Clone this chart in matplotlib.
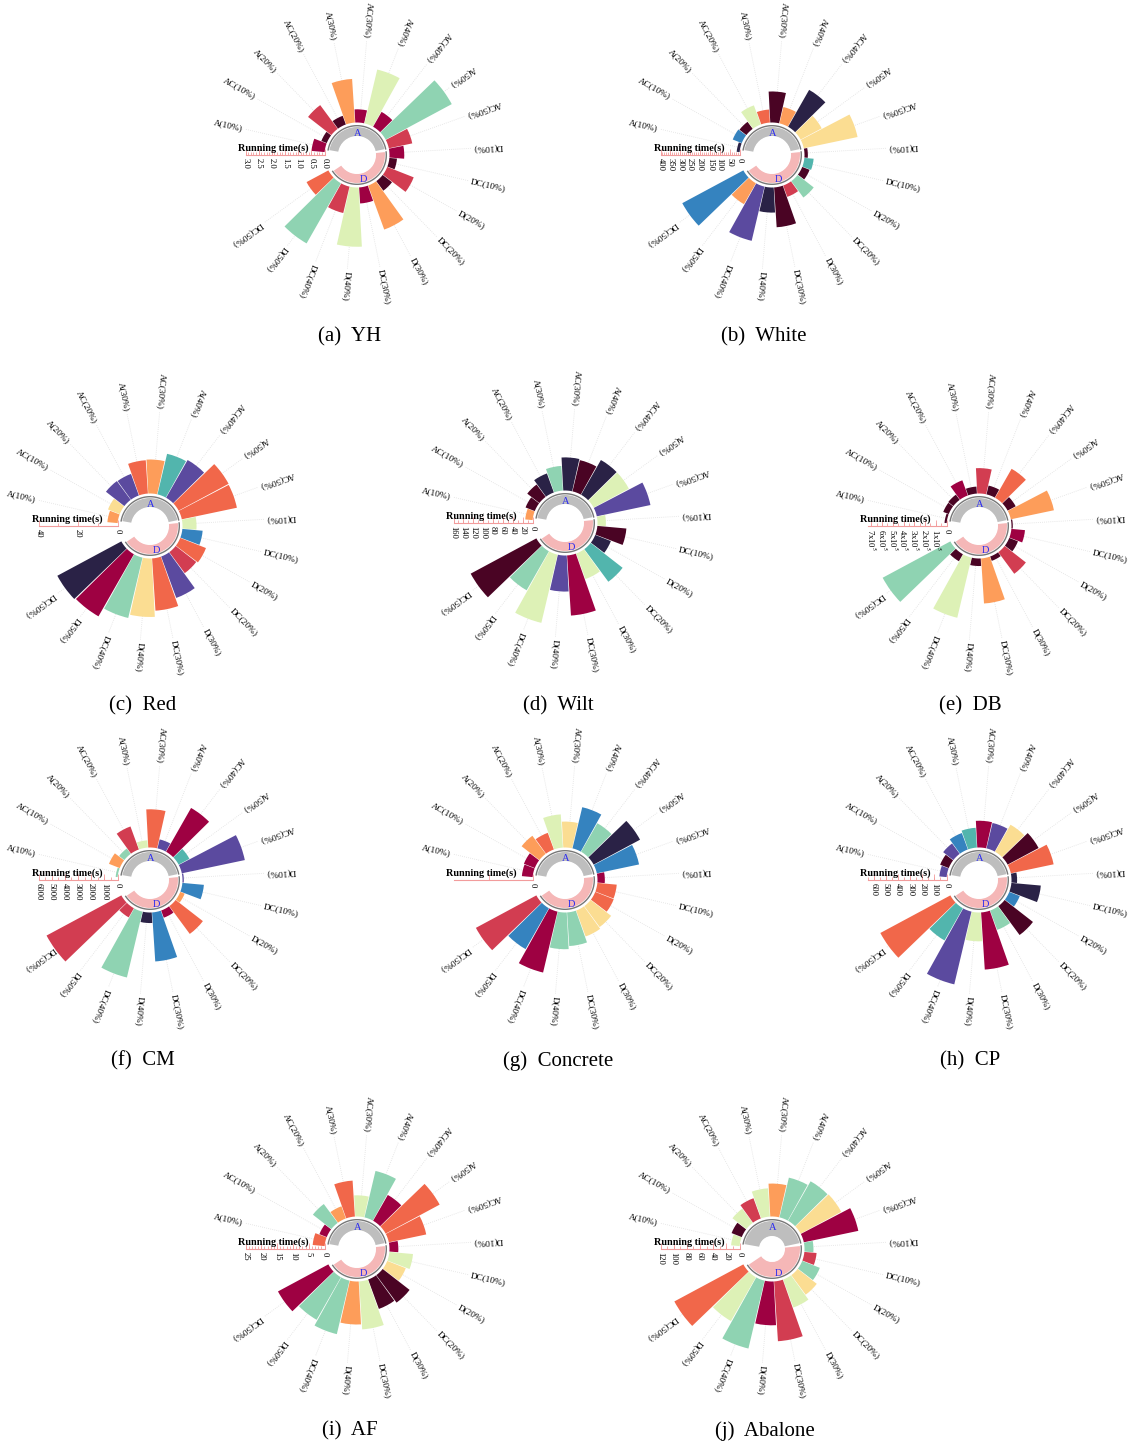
import numpy as np
import matplotlib.pyplot as plt
from matplotlib.transforms import offset_copy

plt.rcParams['font.family'] = ['Liberation Serif', 'DejaVu Serif']
plt.rcParams['mathtext.fontset'] = 'stix'

W, H = 1129, 1446

categories = ['A(10%)', 'AC(10%)', 'A(20%)', 'AC(20%)', 'A(30%)', 'AC(30%)',
              'A(40%)', 'AC(40%)', 'A(50%)', 'AC(50%)',
              'D(10%)', 'DC(10%)', 'D(20%)', 'DC(20%)', 'D(30%)', 'DC(30%)',
              'D(40%)', 'DC(40%)', 'D(50%)', 'DC(50%)']

palette = {'M': '#4a0424', 'C': '#9e0142', 'R': '#d23d51', 'O': '#f1674a',
           'L': '#fd9d5a', 'Y': '#fbdd92', 'G': '#ddf1b6', 'E': '#8fd3b2',
           'T': '#52b5ad', 'B': '#3583bf', 'P': '#5b4a9f', 'N': '#2a2246'}

# running time of each variant, in the order of `categories`
yh_time = [0.5, 0.22, 1.12, 0.35, 1.66, 0.5, 2.1, 0.65, 2.85, 0.91,
           0.56, 0.29, 1.08, 0.45, 1.78, 0.61, 2.25, 1.03, 2.63, 0.94]
yh_fill = 'C M R M L C G C E R C M R M L C G R E O'.split()

white_time = [15, 49, 44, 103, 66, 157, 85, 215, 121, 278,
              17, 47, 40, 103, 61, 202, 127, 282, 122, 351]
white_fill = 'N B M G O M L N Y Y M T M E R M N P L B'.split()

red_time = [5.2, 6.4, 11.8, 11.6, 16.9, 17.2, 21.1, 22.0, 28.7, 28.5,
            7.1, 10.3, 14.0, 13.2, 22.3, 26.5, 29.6, 31.4, 36.2, 36.8]
red_fill = 'L Y P P O L T P O O G B O R P O Y E C N'.split()

wilt_time = [15, 20, 31, 41, 50, 67, 65, 81, 81, 111,
             17, 59, 34, 82, 55, 122, 73, 142, 91, 151]
wilt_fill = 'L M M N E N M N G P G M N T G C P G E M'.split()

# DB times in units of 10^5 s
db_time = [0.2, 0.55, 0.6, 1.5, 0.65, 2.36, 0.84, 3.1, 0.85, 4.1,
           0.12, 1.27, 0.87, 2.5, 0.43, 4.2, 0.7, 5.75, 0.75, 7.15]
db_fill = 'M M M C M R M O M L M C M R M L M G M E'.split()

cm_time = [150, 880, 500, 1860, 550, 2900, 700, 3830, 930, 4890,
           100, 1640, 360, 2620, 580, 3730, 800, 5140, 800, 6450]
cm_fill = 'E L E R G O P C T P P B L O C B N E R R'.split()

concrete_time = [0.25, 0.27, 0.52, 0.41, 0.77, 0.6, 0.98, 0.76, 1.22, 1.0,
                 0.17, 0.45, 0.46, 0.6, 0.64, 0.78, 0.85, 1.45, 1.09, 1.59]
concrete_fill = 'C C L O G Y B E N B C O O Y Y E E C B R'.split()

cp_time = [60, 76, 106, 144, 163, 220, 215, 256, 289, 360,
           46, 243, 93, 295, 169, 471, 237, 615, 305, 654]
cp_fill = 'P M P B T C P Y M O N N B M E C G P T O'.split()

af_time = [3.8, 2.5, 7.4, 4.1, 11.4, 6.7, 15.1, 9.4, 19.4, 12.1,
           2.8, 7.5, 6.3, 10.8, 9.9, 15.2, 13.6, 17.4, 15.5, 18.1]
af_fill = 'O C E L O G E C O O C G Y M M G L E E C'.split()

abalone_time = [13, 16.6, 26.7, 32.7, 43, 50, 62, 69, 70, 84.6,
                13.6, 18.6, 28.7, 36.8, 45.3, 91, 66.5, 106, 76.6, 119]
abalone_fill = 'G M G R G L E E Y C E R E Y G R C E G O'.split()

BASE = 32.5    # px from the centre to the zero of the time axis
AXLEN = 79     # px length of the time axis
LAB = 117      # px radius where the category labels start
RAX = 124      # px radius of each polar axes

step = 2 * np.pi / 22
theta = np.deg2rad(167) - step * np.arange(len(categories))

fig = plt.figure(figsize=(W / 100, H / 100), dpi=100)


def panel(cx, cy, times, fills, tmax, ticks, ticklabels, minor, caption,
          capx, capy, hole=19):
    ax = fig.add_axes([(cx - RAX) / W, 1 - (cy + RAX) / H, 2 * RAX / W, 2 * RAX / H],
                      projection='polar')
    u = tmax / AXLEN
    ax.set_rorigin(-BASE * u)
    ax.set_ylim(-(BASE - hole + 0.5) * u, (RAX - BASE) * u)
    ax.axis('off')

    def px(p):
        return (p - BASE) * u

    for t in theta:
        ax.plot([t, t], [px(34), px(LAB - 2)], ls=(0, (1, 1.5)), color='#e0e0e0',
                lw=0.6, zorder=0)
    ax.bar(theta, times, width=step * 0.96, bottom=0,
           color=[palette[c] for c in fills], zorder=2)

    # group rings
    for a0, a1, col, lab, ang, rr in [(12, 170, '#bebebe', 'A', 89, 22),
                                      (-146, 6, '#f5b7b7', 'D', -74, 25)]:
        mid, span = np.deg2rad((a0 + a1) / 2), np.deg2rad(a1 - a0)
        ax.bar([mid], [px(28) - px(hole)], width=span, bottom=px(hole),
               color=col, zorder=2)
        arc = np.linspace(np.deg2rad(a0), np.deg2rad(a1), 120)
        ax.plot(arc, np.full_like(arc, px(29.3)), color='#777777', lw=1.0, zorder=3)
        ax.text(np.deg2rad(ang), px(rr), lab, color='#2a2af0', fontsize=7.5,
                ha='center', va='center', zorder=4)

    for t, name in zip(theta, categories):
        d = np.rad2deg(t)
        if d >= 0:
            rot, ha = d + 180, 'right'
        else:
            rot, ha = d, 'left'
        ax.text(t, px(LAB), name, rotation=rot, rotation_mode='anchor', ha=ha,
                va='center', fontsize=6.7)

    # time axis drawn along the empty gap on the left
    axc = '#f29c9c'
    ax.plot([np.pi, np.pi], [0, tmax], color=axc, lw=0.8, zorder=3)
    if len(minor):
        ax.plot(np.full(len(minor), np.pi), minor, ls='none', marker=2, ms=2.5,
                mew=0.6, color=axc)
    ax.plot(np.full(len(ticks), np.pi), ticks, ls='none', marker=2, ms=4,
            mew=0.6, color=axc)
    below = offset_copy(ax.transData, fig=fig, y=-3, units='dots')
    for v, s in zip(ticks, ticklabels):
        ax.text(np.pi, v, s, transform=below, rotation=-90, ha='center', va='top',
                fontsize=6.2)
    above = offset_copy(ax.transData, fig=fig, x=-7, y=2, units='dots')
    ax.text(np.pi, tmax, 'Running time(s)', transform=above, ha='left', va='bottom',
            fontsize=7.3, fontweight='bold')

    fig.text(capx / W, 1 - capy / H, caption, ha='center', va='center', fontsize=15)


panel(357, 155, yh_time, yh_fill, 3.0, np.arange(0, 3.01, 0.5),
      ['%.1f' % v for v in np.arange(0, 3.01, 0.5)], np.arange(0, 3.01, 0.1),
      '(a)  YH', 350, 337)
panel(772, 155, white_time, white_fill, 400, np.arange(0, 401, 50),
      [str(v) for v in range(0, 401, 50)], np.arange(0, 401, 10),
      '(b)  White', 764, 337)
panel(150, 526, red_time, red_fill, 40, [0, 20, 40], ['0', '20', '40'],
      [10, 30], '(c)  Red', 143, 706)
panel(565, 523, wilt_time, wilt_fill, 160, np.arange(0, 161, 20),
      [str(v) for v in range(0, 161, 20)], np.arange(0, 161, 10),
      '(d)  Wilt', 558, 706)
panel(979, 526, db_time, db_fill, 7.35, np.arange(0, 8),
      ['0'] + ['%dx10$^5$' % k for k in range(1, 8)], np.arange(0, 7.35, 0.5),
      '(e)  DB', 970, 706)
panel(150, 880, cm_time, cm_fill, 6000, np.arange(0, 6001, 1000),
      ['0'] + [str(v) for v in range(1000, 6001, 1000)], np.arange(0, 6001, 500),
      '(f)  CM', 143, 1061)
panel(565, 880, concrete_time, concrete_fill, 1.83, [0, 1], ['0', ''], [],
      '(g)  Concrete', 558, 1061)
panel(979, 880, cp_time, cp_fill, 650, np.arange(0, 601, 100),
      [str(v) for v in range(0, 601, 100)], np.arange(0, 651, 50),
      '(h)  CP', 970, 1061)
panel(357, 1249, af_time, af_fill, 25, np.arange(0, 26, 5),
      [str(v) for v in range(0, 26, 5)], np.arange(0, 25.1, 1),
      '(i)  AF', 350, 1431)
panel(772, 1249, abalone_time, abalone_fill, 120, np.arange(0, 121, 20),
      [str(v) for v in range(0, 121, 20)], np.arange(0, 121, 10),
      '(j)  Abalone', 765, 1431, hole=13)

fig.savefig('out.png', dpi=100)
